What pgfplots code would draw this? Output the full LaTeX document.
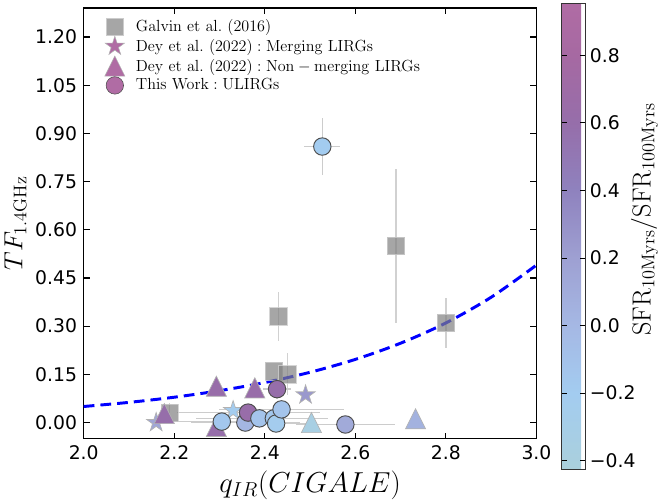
\RequirePackage{fix-cm}
\documentclass[border=0pt]{standalone}
\usepackage[no-math]{fontspec}
\newfontfamily\dejavu{DejaVu Sans}
\usepackage{pgfplots}
\pgfplotsset{compat=1.18}
\usetikzlibrary{plotmarks}

\pgfdeclareplotmark{fstar}{%
  \pgfpathmoveto{\pgfpointpolar{90}{\pgfplotmarksize}}%
  \pgfpathlineto{\pgfpointpolar{126}{0.382\pgfplotmarksize}}%
  \pgfpathlineto{\pgfpointpolar{162}{\pgfplotmarksize}}%
  \pgfpathlineto{\pgfpointpolar{198}{0.382\pgfplotmarksize}}%
  \pgfpathlineto{\pgfpointpolar{234}{\pgfplotmarksize}}%
  \pgfpathlineto{\pgfpointpolar{270}{0.382\pgfplotmarksize}}%
  \pgfpathlineto{\pgfpointpolar{306}{\pgfplotmarksize}}%
  \pgfpathlineto{\pgfpointpolar{342}{0.382\pgfplotmarksize}}%
  \pgfpathlineto{\pgfpointpolar{18}{\pgfplotmarksize}}%
  \pgfpathlineto{\pgfpointpolar{54}{0.382\pgfplotmarksize}}%
  \pgfpathclose\pgfusepathqfillstroke}
\pgfdeclareplotmark{mtri}{%
  \pgfpathmoveto{\pgfpoint{0pt}{\pgfplotmarksize}}%
  \pgfpathlineto{\pgfpoint{-\pgfplotmarksize}{-\pgfplotmarksize}}%
  \pgfpathlineto{\pgfpoint{\pgfplotmarksize}{-\pgfplotmarksize}}%
  \pgfpathclose\pgfusepathqfillstroke}

\definecolor{legpurple}{RGB}{176,108,164}

\pgfplotsset{colormap={sfr}{rgb255(0pt)=(170,208,220) rgb255(227pt)=(163,204,240) rgb255(427pt)=(165,184,228) rgb255(627pt)=(158,160,210) rgb255(827pt)=(143,130,190) rgb255(1027pt)=(150,110,170) rgb255(1227pt)=(166,105,162) rgb255(1382pt)=(176,108,164)}}

\pgfplotsset{myleg/.style={legend image code/.code={\path (0cm,0cm) (0.725cm,0cm);\draw[mark repeat=2,mark phase=2,##1] plot coordinates {(0cm,0cm) (0.25cm,0cm) (0.5cm,0cm)};}}}

\begin{document}
\begin{tikzpicture}
\begin{axis}[
  scale only axis, width=337.5pt, height=321pt,
  xmin=2, xmax=3, ymin=-0.05, ymax=1.29,
  xtick={2,2.2,2.4,2.6,2.8,3},
  ytick={0,0.15,0.30,0.45,0.60,0.75,0.90,1.05,1.20},
  /pgf/number format/assume math mode=true,
  xticklabel style={yshift=-1.5pt, /pgf/number format/.cd, fixed, fixed zerofill, precision=1},
  yticklabel style={xshift=-1.5pt, /pgf/number format/.cd, fixed, fixed zerofill, precision=2},
  tick label style={font=\dejavu\fontsize{14}{16}\selectfont},
  tick align=inside, tick pos=both, major tick length=4.5pt,
  axis line style={line width=0.9pt},
  every tick/.style={black, line width=0.9pt},
  xlabel={$q_{IR}(CIGALE)$}, ylabel={$TF_{\mathrm{1.4GHz}}$},
  xlabel style={font=\fontsize{21.5}{25}\selectfont, at={(axis description cs:0.5,-0.1075)}, anchor=center, inner sep=3pt},
  ylabel style={font=\fontsize{19.5}{23}\selectfont, at={(axis description cs:-0.151,0.5)}, anchor=center},
  extra description/.code={\path (axis description cs:0,1) ++(0pt,6pt);},
  colorbar, colormap name=sfr, point meta min=-0.427, point meta max=0.955,
  colorbar style={
    at={(parent axis.north east)}, anchor=north west, xshift=10.5pt, yshift=3.75pt,
    scale only axis, width=17.25pt, height=348pt,
    ytick={-0.4,-0.2,0,0.2,0.4,0.6,0.8},
    yticklabels={−0.4,−0.2,0.0,0.2,0.4,0.6,0.8},
    yticklabel style={font=\dejavu\fontsize{14}{16}\selectfont},
    ylabel={$\mathrm{SFR_{10Myrs}/SFR_{100Myrs}}$},
    ylabel style={font=\fontsize{19.5}{23}\selectfont, at={(axis description cs:3.565,0.537)}, anchor=center, inner sep=0pt},
    axis line style={black!80, line width=0.75pt},
    tick align=inside, major tick length=3.75pt,
    every tick/.style={black, line width=0.75pt},
  },
  legend style={draw=none, fill=none, at={(axis cs:2.037,1.272)}, anchor=north west,
    font=\fontsize{12}{14}\selectfont, row sep=0pt},
  legend cell align=left,
]
\addlegendimage{only marks, mark=square*, mark size=6.5pt, mark options={fill=black!50, fill opacity=0.7, draw=black!20}, myleg}
\addlegendentry{$\mathrm{Galvin\ et\ al.\ (2016)}$}
\addlegendimage{only marks, mark=fstar, mark size=7.5pt, mark options={fill=legpurple, draw=black!30}, myleg}
\addlegendentry{$\mathrm{Dey\ et\ al.\ (2022):Merging\ LIRGs}$}
\addlegendimage{only marks, mark=mtri, mark size=7.5pt, mark options={fill=legpurple, draw=black!30}, myleg}
\addlegendentry{$\mathrm{Dey\ et\ al.\ (2022):Non-merging\ LIRGs}$}
\addlegendimage{only marks, mark=*, mark size=6.5pt, mark options={fill=legpurple, draw=black!70}, myleg}
\addlegendentry{$\mathrm{This\ Work:ULIRGs}$}

% Galvin error bars
\addplot[forget plot, draw=none, mark=none, error bars/.cd, y dir=both, y explicit, error mark=none,
  error bar style={draw=black!18, line width=1pt}] table[x=x, y=y, y error=ey]{
x y ey
2.19 0.03 0.03
2.45 0.15 0.065
2.43 0.33 0.075
2.69 0.55 0.24
2.80 0.31 0.077
};
% Galvin squares
\addplot[forget plot, only marks, mark=square*, mark size=6.5pt,
  mark options={fill=black!50, fill opacity=0.7, draw=black!20, draw opacity=0.8, line width=0.5pt}] table[x=x,y=y]{
x y
2.19 0.03
2.42 0.16
2.45 0.15
2.43 0.33
2.69 0.55
2.80 0.31
};
% Dey merging (stars)
\addplot[forget plot, scatter, only marks, mark=fstar, mark size=7.5pt, point meta=explicit,
  scatter/use mapped color={draw=black!30, fill=mapped color, line width=0.5pt}] table[x=x,y=y,meta=c]{
x y c
2.160 0.000 0.15
2.330 0.037 -0.22
2.490 0.086 0.25
};
% Dey non-merging (triangles)
\addplot[forget plot, scatter, only marks, mark=mtri, mark size=7.5pt, point meta=explicit,
  scatter/use mapped color={draw=black!30, fill=mapped color, line width=0.5pt}] table[x=x,y=y,meta=c]{
x y c
2.178 0.028 0.60
2.293 0.113 0.62
2.378 0.108 0.62
2.293 -0.012 0.60
2.503 0.000 -0.35
2.733 0.012 0.05
};
% This work (circles)
\addplot[forget plot, scatter, only marks, mark=*, mark size=6.5pt, point meta=explicit,
  scatter/use mapped color={draw=black!70, fill=mapped color, line width=0.7pt}] table[x=x,y=y,meta=c]{
x y c
2.527 0.859 -0.20
2.305 0.003 -0.15
2.357 0.000 0.02
2.363 0.031 0.62
2.388 0.013 -0.12
2.420 0.013 -0.15
2.425 -0.003 -0.22
2.437 0.041 -0.12
2.427 0.104 0.60
2.578 -0.006 0.12
};
% This work error bars
\addplot[forget plot, draw=none, mark=none, error bars/.cd, x dir=both, x explicit, y dir=both, y explicit, error mark=none,
  error bar style={draw=black!20, line width=1pt}] table[x=x, y=y, x error=ex, y error=ey]{
x y ex ey
2.527 0.859 0.04 0.09
2.305 0.003 0.10 0
2.357 0.000 0.12 0
2.363 0.031 0.158 0
2.388 0.013 0.14 0
2.420 0.013 0.12 0
2.425 -0.003 0.08 0
2.437 0.041 0.139 0
2.427 0.104 0.03 0.03
2.578 -0.006 0.11 0
};
% relation
\addplot[forget plot, blue, line width=2.2pt, dash pattern=on 8pt off 4.5pt, smooth] coordinates {
(2.0,0.050) (2.1,0.0628) (2.2,0.0789) (2.3,0.0992) (2.4,0.1246) (2.5,0.1565)
(2.6,0.1966) (2.7,0.247) (2.8,0.310) (2.9,0.390) (3.0,0.490)
};
\end{axis}
\end{tikzpicture}
\end{document}
